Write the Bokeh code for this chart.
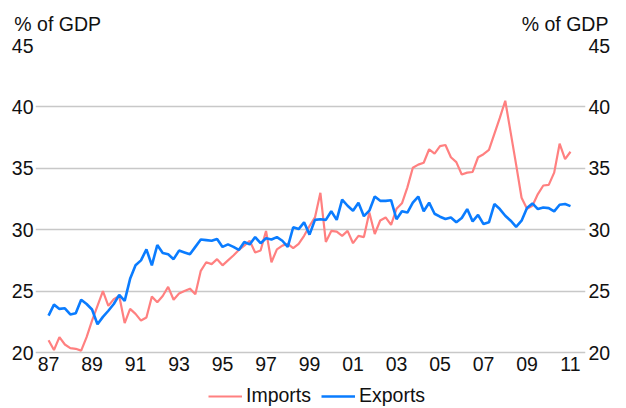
from bokeh.plotting import figure
from bokeh.models import LinearAxis, Range1d, FixedTicker, Legend, LegendItem, ColumnDataSource
from bokeh.embed import file_html
from bokeh.resources import INLINE

FONT = "Liberation Sans"
FSIZE = "19.5px"

start_year = 1987.0
step = 0.25

imports = [21.0, 20.2, 21.25, 20.65, 20.35, 20.3, 20.15, 21.25, 22.6, 23.8, 25.0, 23.8,
           24.35, 24.6, 22.4, 23.55, 23.15, 22.6, 22.85, 24.55, 24.1, 24.6, 25.35, 24.3,
           24.8, 25.0, 25.2, 24.75, 26.65, 27.35, 27.2, 27.6, 27.1, 27.5, 27.9, 28.35,
           28.7, 29.1, 28.15, 28.3, 29.9, 27.35, 28.4, 28.7, 28.85, 28.5, 28.85, 29.5,
           30.3, 31.0, 33.0, 29.0, 29.9, 29.85, 29.5, 29.9, 28.9, 29.5, 29.4, 31.4,
           29.65, 30.75, 31.0, 30.4, 31.7, 32.15, 33.45, 35.05, 35.3, 35.45, 36.55, 36.2,
           36.8, 36.9, 35.9, 35.5, 34.5, 34.65, 34.7, 35.9, 36.15, 36.5, 37.8, 39.1,
           40.5, 37.9, 35.3, 32.6, 31.7, 31.95, 32.9, 33.6, 33.65, 34.65, 37.0, 35.75,
           36.35]

exports = [23.0, 23.9, 23.55, 23.6, 23.1, 23.2, 24.3, 23.95, 23.5, 22.3, 22.9, 23.4,
           23.95, 24.7, 24.2, 26.0, 27.1, 27.5, 28.4, 27.1, 28.75, 28.1, 28.0, 27.6,
           28.3, 28.15, 28.0, 28.6, 29.2, 29.15, 29.1, 29.25, 28.6, 28.8, 28.6, 28.35,
           29.0, 28.8, 29.4, 28.9, 29.3, 29.2, 29.4, 29.1, 28.6, 30.2, 30.05, 30.6,
           29.6, 30.8, 30.85, 30.8, 31.5, 30.8, 32.45, 31.95, 31.55, 32.2, 31.1, 31.55,
           32.7, 32.35, 32.35, 32.4, 30.85, 31.5, 31.4, 32.2, 32.7, 31.5, 32.2, 31.3,
           31.06, 30.87, 31.0, 30.6, 30.95, 31.68, 30.68, 31.2, 30.46, 30.6, 32.09, 31.68,
           31.14, 30.73, 30.24, 30.73, 31.76, 32.14, 31.68, 31.81, 31.76, 31.49, 32.03, 32.09,
           31.92]

years = [start_year + step * i for i in range(len(imports))]

tick_years = [1987, 1989, 1991, 1993, 1995, 1997, 1999, 2001, 2003, 2005, 2007, 2009, 2011]
tick_labels = ["87", "89", "91", "93", "95", "97", "99", "01", "03", "05", "07", "09", "11"]
y_ticks = [20, 25, 30, 35, 40, 45]
unit_label = "% of GDP"

src = ColumnDataSource(dict(t=years, imp=imports, exp=exports))

x0, x1 = 1986.40, 2011.69
# the frame extends below 20 so that the legend can sit inside it
y0, y1 = 15.44, 45
# x positions (in years) at which the two unit captions are centred
unit_pos = [1987.42, 2010.75]

p = figure(width=626, height=408, output_backend="svg", toolbar_location=None,
           x_range=Range1d(x0, x1), y_range=Range1d(y0, y1),
           min_border_left=35, min_border_right=41, min_border_top=45, min_border_bottom=0,
           y_axis_location=None)
p.outline_line_color = None
p.background_fill_color = "white"
p.border_fill_color = "white"

p.xgrid.grid_line_color = None
p.ygrid.ticker = FixedTicker(ticks=y_ticks)
p.ygrid.grid_line_color = "#c8c8c8"
p.ygrid.grid_line_width = 1.5


def style_axis(ax, standoff):
    ax.axis_line_color = None
    ax.major_tick_line_color = None
    ax.minor_tick_line_color = None
    ax.major_tick_out = 0
    ax.major_tick_in = 0
    ax.major_label_standoff = standoff
    ax.major_label_text_font = FONT
    ax.major_label_text_font_size = FSIZE
    ax.major_label_text_color = "#111111"


for side, standoff in (("left", 2), ("right", 3)):
    ax = LinearAxis(ticker=FixedTicker(ticks=y_ticks))
    style_axis(ax, standoff)
    p.add_layout(ax, side)

xa = p.xaxis[0]
xa.ticker = FixedTicker(ticks=tick_years)
xa.major_label_overrides = {y: l for y, l in zip(tick_years, tick_labels)}
xa.fixed_location = y_ticks[0]
style_axis(xa, 4)

top = LinearAxis(ticker=FixedTicker(ticks=unit_pos))
top.major_label_overrides = {u: unit_label for u in unit_pos}
style_axis(top, 11)
p.add_layout(top, "above")

r_imp = p.line("t", "imp", source=src, line_color="#ff8080", line_width=2.2)
r_exp = p.line("t", "exp", source=src, line_color="#0a7cff", line_width=2.6)

legend = Legend(items=[LegendItem(label="Imports", renderers=[r_imp]),
                       LegendItem(label="Exports", renderers=[r_exp])],
                orientation="horizontal", location=(173, 1),
                label_text_font=FONT, label_text_font_size=FSIZE, label_text_color="#111111",
                glyph_width=34, glyph_height=20, label_height=20, spacing=10,
                padding=0, margin=0, border_line_color=None, background_fill_alpha=0,
                label_standoff=4)
p.add_layout(legend)

open("out.html", "w").write(file_html(p, INLINE))
